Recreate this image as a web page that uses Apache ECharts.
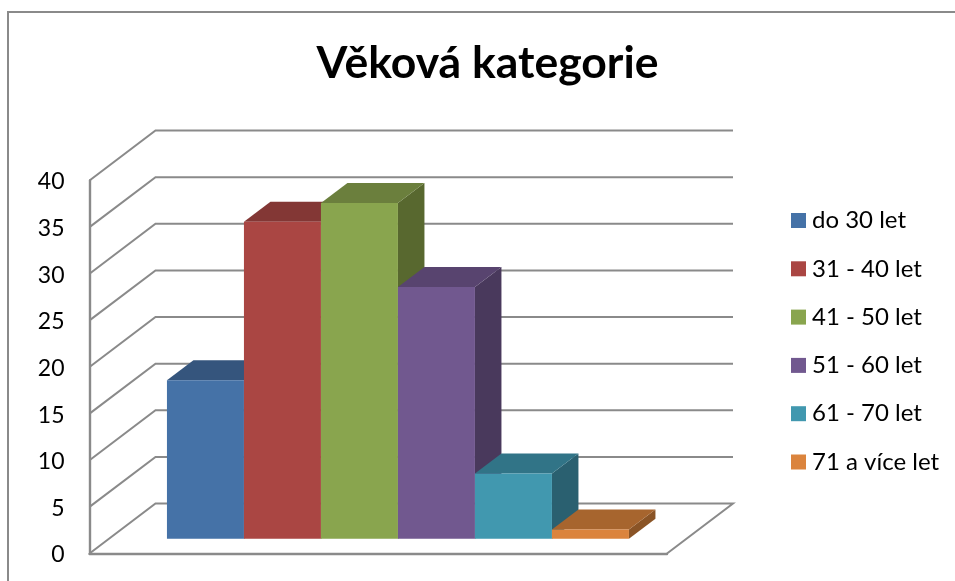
<!DOCTYPE html>
<html>
<head>
<meta charset="utf-8">
<style>html,body{margin:0;padding:0;background:#fff}#c{width:955px;height:581px}</style>
<script src="https://cdn.jsdelivr.net/npm/echarts@6/dist/echarts.min.js"></script>
</head>
<body>
<div id="c"></div>
<script>
const chartTitle = 'Věková kategorie';
const categories = ['do 30 let', '31 - 40 let', '41 - 50 let', '51 - 60 let', '61 - 70 let', '71 a více let'];
const values = [17, 34, 36, 27, 7, 1];
const yTicks = [0, 5, 10, 15, 20, 25, 30, 35, 40];
const frontColors = ['#4572A7', '#AA4643', '#89A54E', '#71588F', '#4198AF', '#DB843D'];
const topColors = ['#35557D', '#833735', '#6B7F3D', '#58446F', '#317487', '#A7652E'];
const sideColors = ['#2D4A6D', '#70302E', '#58682F', '#49395C', '#2A6070', '#8A5426'];
const lineColor = '#8a8a8a';
const textFont = 'Lato';

// oblique projection of the Excel-style 3D box
const wall = [66, -50];
const front = [19.7, -14.8];
const depth = [26.5, -20];

function shift(p, d) { return [p[0] + d[0], p[1] + d[1]]; }

function renderGrid(params, api) {
  const v = api.value(0);
  const a = api.coord([-0.75, v]);
  const b = shift(a, wall);
  const d = api.coord([6.75, v]);
  const c = shift(d, wall);
  const style = { stroke: lineColor, lineWidth: 2, fill: null };
  if (v === 0) {
    return { type: 'polyline', shape: { points: [a, b, c, d] }, style: style, silent: true };
  }
  return { type: 'polyline', shape: { points: [a, b, c] }, style: style, silent: true };
}

function renderBar(idx) {
  return function (params, api) {
    const i = api.value(0);
    const val = api.value(1);
    const bl = shift(api.coord([i, 0]), front);
    const br = shift(api.coord([i + 1, 0]), front);
    const tl = shift(api.coord([i, val]), front);
    const tr = shift(api.coord([i + 1, val]), front);
    const tlb = shift(tl, depth), trb = shift(tr, depth), brb = shift(br, depth);
    return {
      type: 'group',
      children: [
        { type: 'polygon', shape: { points: [br, tr, trb, brb] }, style: { fill: sideColors[idx] } },
        { type: 'polygon', shape: { points: [tl, tr, trb, tlb] }, style: { fill: topColors[idx] } },
        { type: 'polygon', shape: { points: [bl, br, tr, tl] }, style: { fill: frontColors[idx] } }
      ]
    };
  };
}

const series = [{
  type: 'custom',
  name: 'mřížka',
  z: 1,
  silent: true,
  clip: false,
  renderItem: renderGrid,
  encode: { y: 0 },
  data: yTicks.map(function (t) { return [t]; })
}].concat(categories.map(function (name, i) {
  return {
    type: 'custom',
    name: name,
    z: 3,
    clip: false,
    itemStyle: { color: frontColors[i] },
    renderItem: renderBar(i),
    encode: { x: 0, y: 1 },
    data: [[i, values[i]]]
  };
}));

const chart = echarts.init(document.getElementById('c'), null, { renderer: 'canvas' });
chart.setOption({
  animation: false,
  backgroundColor: '#fff',
  title: {
    text: chartTitle,
    left: 482.5, top: 36, textAlign: 'center',
    textStyle: { fontFamily: textFont, fontWeight: 'bold', fontSize: 44.5, color: '#000' }
  },
  legend: {
    orient: 'vertical',
    left: 786, top: 203.5,
    itemWidth: 15, itemHeight: 15, itemGap: 24.3,
    icon: 'rect',
    data: categories,
    selectedMode: false,
    textStyle: { fontFamily: textFont, fontSize: 24, color: '#000', padding: [0, 0, 0, 1] }
  },
  tooltip: { show: false },
  grid: { left: 89.5, right: 288, top: 180.5, bottom: 27.5, containLabel: false },
  xAxis: {
    type: 'value', min: -0.75, max: 6.75,
    axisLine: { show: true, onZero: false, lineStyle: { color: lineColor, width: 2.4 } },
    axisTick: { show: false }, axisLabel: { show: false }, splitLine: { show: false }
  },
  yAxis: {
    type: 'value', min: 0, max: 40, interval: 5,
    axisLine: { show: true, onZero: false, lineStyle: { color: lineColor, width: 2.4 } },
    axisTick: { show: false },
    axisLabel: { margin: 25, fontFamily: textFont, fontSize: 23, color: '#000', hideOverlap: false, verticalAlign: 'top', lineHeight: 23, padding: [-10, 0, 0, 0] },
    splitLine: { show: false }
  },
  graphic: [{
    type: 'polyline',
    silent: true,
    shape: { points: [[8, 581], [8, 12], [955, 12]] },
    style: { stroke: lineColor, lineWidth: 2, fill: null }
  }],
  series: series
});
</script>
</body>
</html>
